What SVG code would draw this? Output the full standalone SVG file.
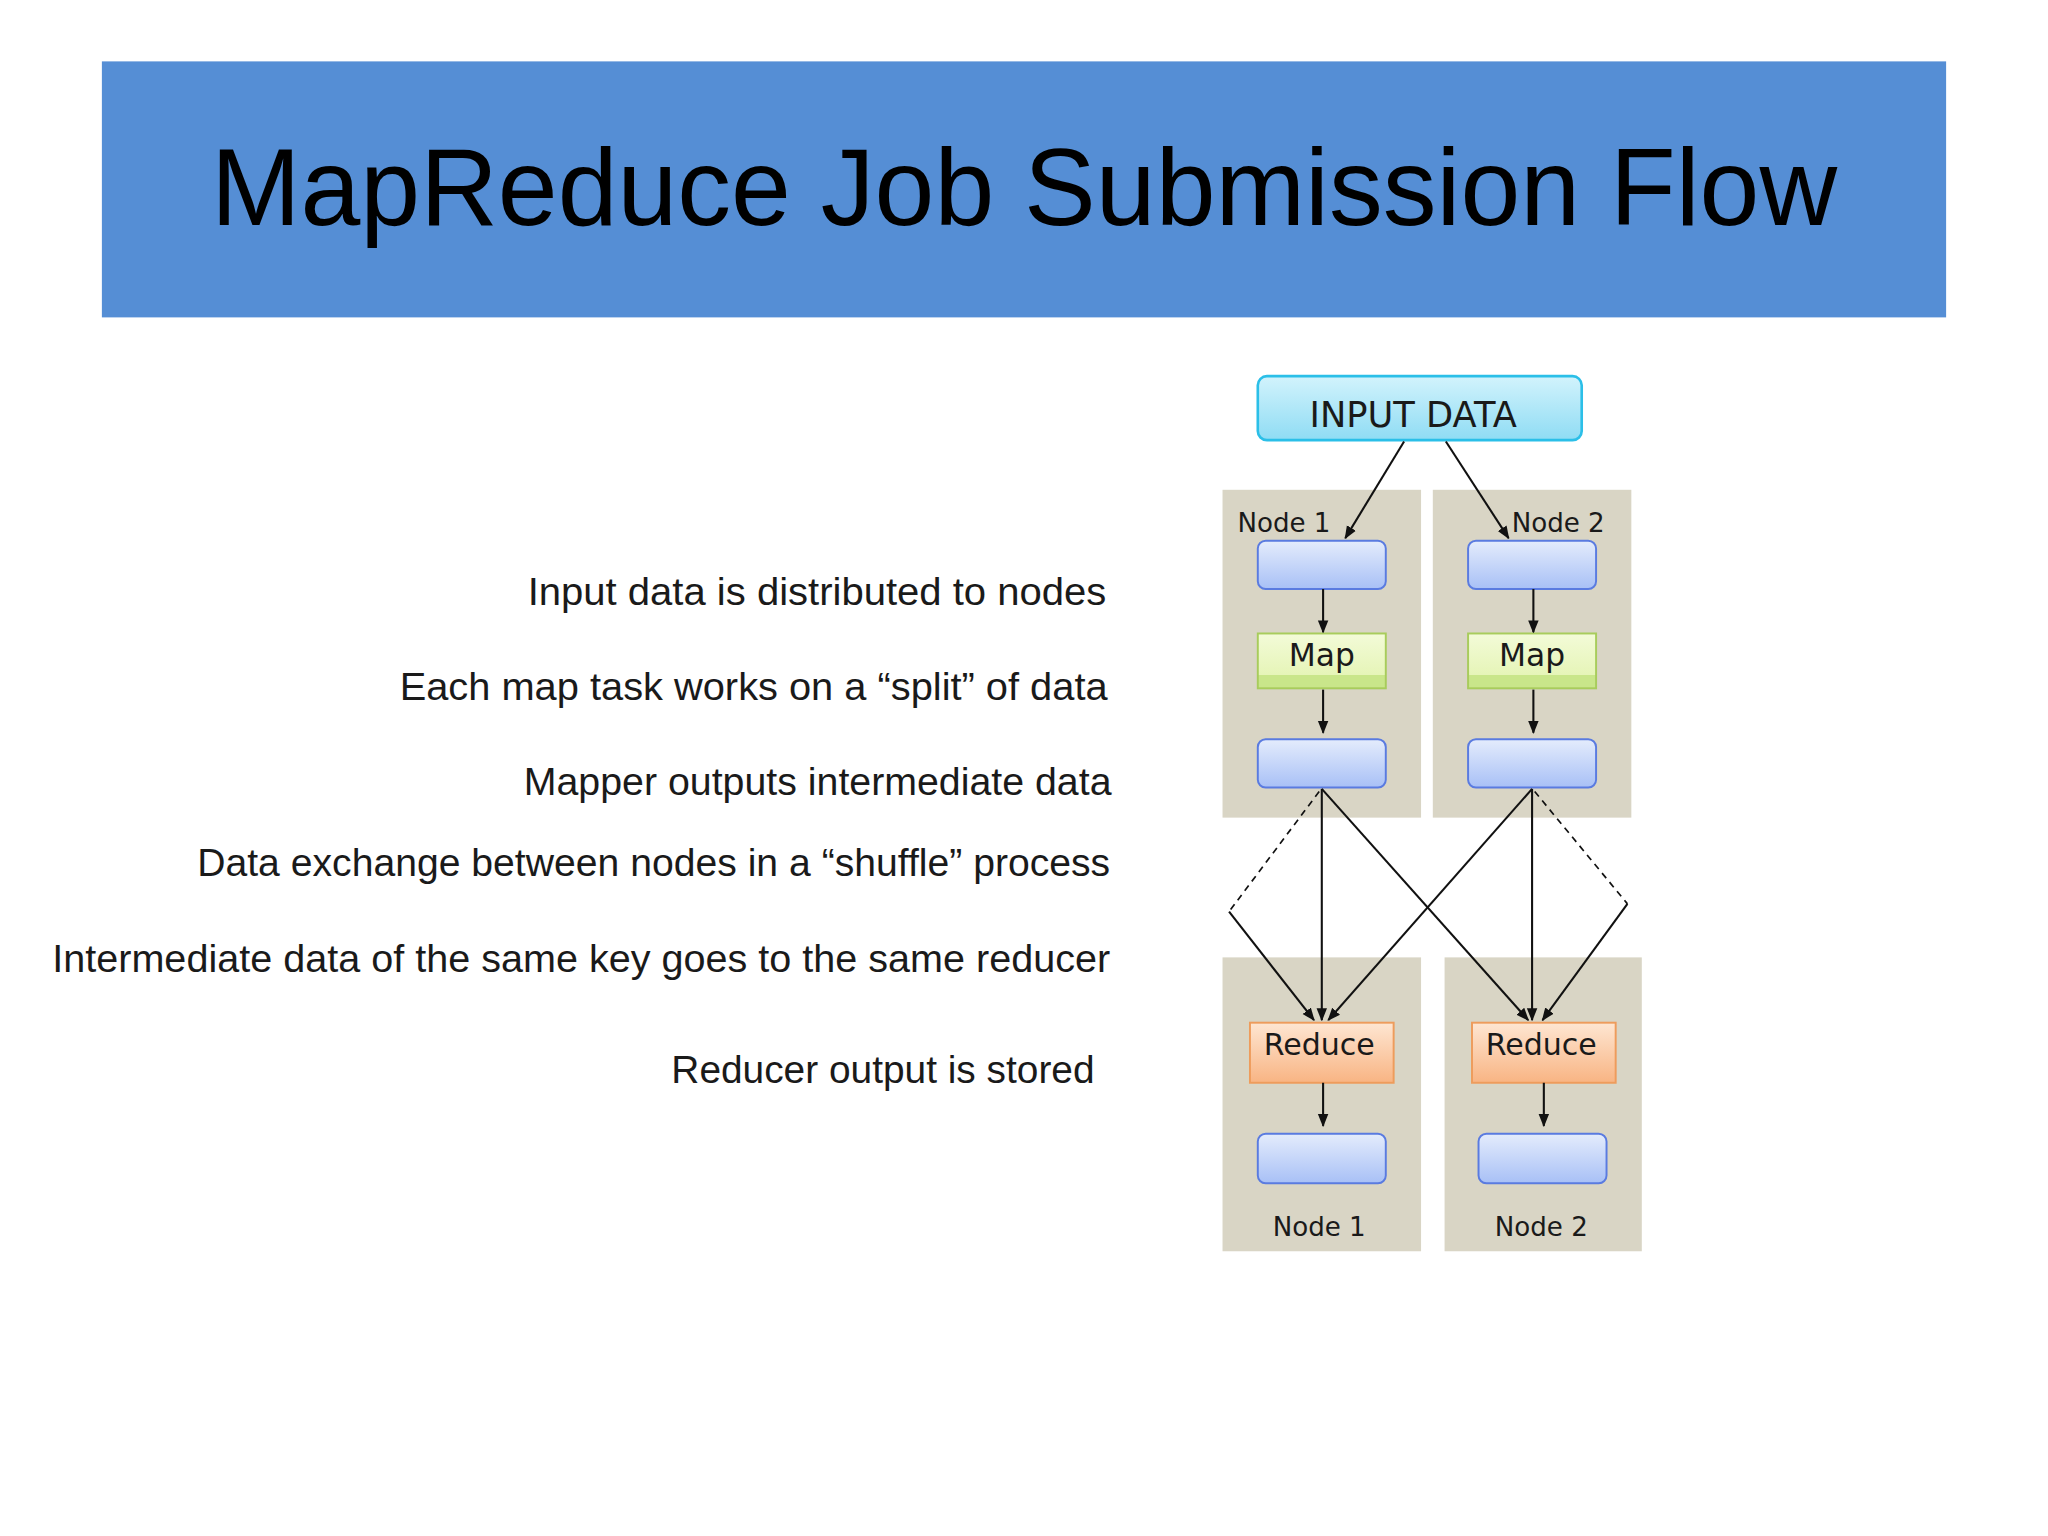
<svg xmlns="http://www.w3.org/2000/svg" width="2048" height="1536" viewBox="0 0 2048 1536">
<defs>
<style>
.t{font-family:"Liberation Sans","Open Sans",sans-serif;fill:#1a1a1a;font-size:29px;text-anchor:end}
.v{font-family:"DejaVu Sans",sans-serif;fill:#1a1a1a;text-anchor:middle}
.panel{fill:#d9d5c5}
.blue{fill:url(#gb);stroke:#5a7be0;stroke-width:1.5}
.map{fill:url(#gg);stroke:#a8cc5c;stroke-width:1.5}
.red{fill:url(#go);stroke:#ee9c5c;stroke-width:1.5}
.c{stroke:#111;stroke-width:1.6;fill:none;marker-end:url(#ah)}
.cn{stroke:#111;stroke-width:1.6;fill:none}
.d{stroke:#111;stroke-width:1.3;fill:none;stroke-dasharray:5 4}
</style>
<linearGradient id="gb" x1="0" y1="0" x2="0" y2="1"><stop offset="0" stop-color="#e4ecfc"/><stop offset="1" stop-color="#a8c0f6"/></linearGradient>
<linearGradient id="gg" x1="0" y1="0" x2="0" y2="1"><stop offset="0" stop-color="#f3fbd8"/><stop offset="0.75" stop-color="#e6f5b8"/><stop offset="0.76" stop-color="#c9e68a"/><stop offset="1" stop-color="#c9e68a"/></linearGradient>
<linearGradient id="go" x1="0" y1="0" x2="0" y2="1"><stop offset="0" stop-color="#fee6d2"/><stop offset="1" stop-color="#f8b483"/></linearGradient>
<linearGradient id="gc" x1="0" y1="0" x2="0" y2="1"><stop offset="0" stop-color="#d2f3fc"/><stop offset="1" stop-color="#8fdcf4"/></linearGradient>
<marker id="ah" markerWidth="10" markerHeight="10" refX="9" refY="5" orient="auto" markerUnits="userSpaceOnUse"><path d="M0,1 L10,5 L0,9 z" fill="#111"/></marker>
</defs>
<rect width="2048" height="1536" fill="#fff"/>
<g transform="scale(1.30612)">
<g id="title">
<rect x="78" y="47" width="1412" height="196" fill="#558ed5"/>
<text x="784" y="172" font-family="Liberation Sans,sans-serif" font-size="84" text-anchor="middle" fill="#000" textLength="1245" lengthAdjust="spacingAndGlyphs">MapReduce Job Submission Flow</text>
</g>
<g id="bullets">
<text class="t" x="847" y="463" textLength="443" lengthAdjust="spacingAndGlyphs">Input data is distributed to nodes</text>
<text class="t" x="848" y="536" textLength="542" lengthAdjust="spacingAndGlyphs">Each map task works on a “split” of data</text>
<text class="t" x="851" y="609" textLength="450" lengthAdjust="spacingAndGlyphs">Mapper outputs intermediate data</text>
<text class="t" x="850" y="671" textLength="699" lengthAdjust="spacingAndGlyphs">Data exchange between nodes in a “shuffle” process</text>
<text class="t" x="850" y="744" textLength="810" lengthAdjust="spacingAndGlyphs">Intermediate data of the same key goes to the same reducer</text>
<text class="t" x="838" y="829" textLength="324" lengthAdjust="spacingAndGlyphs">Reducer output is stored</text>
</g>
<g id="panels">
<rect class="panel" x="936" y="375" width="152" height="251"/>
<rect class="panel" x="1097" y="375" width="152" height="251"/>
<rect class="panel" x="936" y="733" width="152" height="225"/>
<rect class="panel" x="1106" y="733" width="151" height="225"/>
<text class="v" x="983" y="407" font-size="20">Node 1</text>
<text class="v" x="1193" y="407" font-size="20">Node 2</text>
<text class="v" x="1010" y="946" font-size="20">Node 1</text>
<text class="v" x="1180" y="946" font-size="20">Node 2</text>
</g>
<g id="input"><rect x="963" y="288" width="248" height="49" rx="7" fill="url(#gc)" stroke="#2bbfe8" stroke-width="2"/><text class="v" x="1082" y="327" font-size="27">INPUT DATA</text></g>
<g id="n1in"><rect class="blue" x="963" y="414" width="98" height="37" rx="6"/></g>
<g id="n2in"><rect class="blue" x="1124" y="414" width="98" height="37" rx="6"/></g>
<g id="map1"><rect class="map" x="963" y="485" width="98" height="42"/><text class="v" x="1012" y="510" font-size="24">Map</text></g>
<g id="map2"><rect class="map" x="1124" y="485" width="98" height="42"/><text class="v" x="1173" y="510" font-size="24">Map</text></g>
<g id="n1mid"><rect class="blue" x="963" y="566" width="98" height="37" rx="6"/></g>
<g id="n2mid"><rect class="blue" x="1124" y="566" width="98" height="37" rx="6"/></g>
<g id="red1"><rect class="red" x="957" y="783" width="110" height="46"/><text class="v" x="1010" y="808" font-size="23">Reduce</text></g>
<g id="red2"><rect class="red" x="1127" y="783" width="110" height="46"/><text class="v" x="1180" y="808" font-size="23">Reduce</text></g>
<g id="out1"><rect class="blue" x="963" y="868" width="98" height="38" rx="6"/></g>
<g id="out2"><rect class="blue" x="1132" y="868" width="98" height="38" rx="6"/></g>
<g id="connectors">
<line class="c" x1="1075" y1="338" x2="1030" y2="412"/>
<line class="c" x1="1107" y1="338" x2="1155" y2="412"/>
<line class="c" x1="1013" y1="451" x2="1013" y2="484"/>
<line class="c" x1="1174" y1="451" x2="1174" y2="484"/>
<line class="c" x1="1013" y1="528" x2="1013" y2="561"/>
<line class="c" x1="1174" y1="528" x2="1174" y2="561"/>
<line class="c" x1="1013" y1="829" x2="1013" y2="862"/>
<line class="c" x1="1182" y1="829" x2="1182" y2="862"/>
<line class="c" x1="1012" y1="604" x2="1012" y2="781"/>
<line class="c" x1="1012" y1="604" x2="1170" y2="781"/>
<line class="d" x1="1010" y1="606" x2="941" y2="698"/>
<line class="c" x1="941" y1="698" x2="1006" y2="781"/>
<line class="c" x1="1173" y1="604" x2="1173" y2="781"/>
<line class="c" x1="1173" y1="604" x2="1017" y2="781"/>
<line class="d" x1="1175" y1="606" x2="1246" y2="692"/>
<line class="c" x1="1246" y1="692" x2="1181" y2="781"/>
</g>
</g>
</svg>
